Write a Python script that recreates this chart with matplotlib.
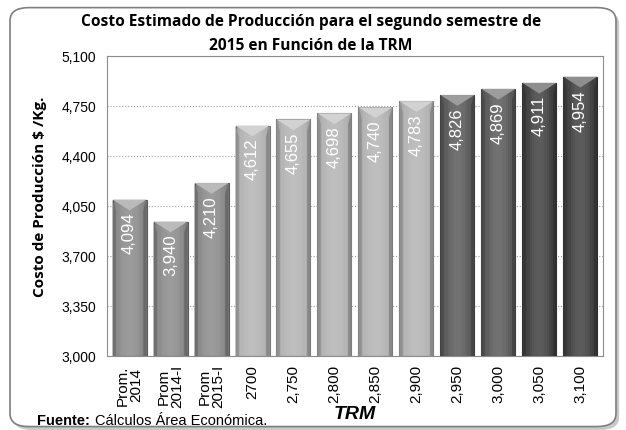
import matplotlib.pyplot as plt
from matplotlib.patches import FancyBboxPatch, Polygon
import numpy as np

categorias = ['Prom.\n2014', 'Prom\n2014-I', 'Prom\n2015-I', '2700', '2,750', '2,800',
              '2,850', '2,900', '2,950', '3,000', '3,050', '3,100']
costos = [4094, 3940, 4210, 4612, 4655, 4698, 4740, 4783, 4826, 4869, 4911, 4954]
colores = ['#8c8c8c'] * 3 + ['#b4b4b4'] * 5 + ['#5c5c5c'] * 2 + ['#434343'] * 2

plt.rcParams['font.family'] = ['Liberation Sans', 'DejaVu Sans']

fig = plt.figure(figsize=(6.26, 4.31), dpi=100)

# marco redondeado
marco = FancyBboxPatch((0.016, 0.008), 0.968, 0.972, boxstyle='round,pad=0,rounding_size=0.03',
                       transform=fig.transFigure, facecolor='white', edgecolor='#7f7f7f',
                       linewidth=1.2, zorder=-5)
sombra = FancyBboxPatch((0.021, 0.0), 0.968, 0.972, boxstyle='round,pad=0,rounding_size=0.03',
                        transform=fig.transFigure, facecolor='#c8c8c8', edgecolor='none', zorder=-6)
fig.patches.extend([sombra, marco])

ax = fig.add_axes([0.171, 0.172, 0.792, 0.696])
x = np.arange(len(costos))
w = 0.83
ymin = 3000

def tono(c, f):
    c = np.array(plt.matplotlib.colors.to_rgb(c))
    if f > 0:
        return tuple(c + (1 - c) * f)
    return tuple(c * (1 + f))

for i, (v, c) in enumerate(zip(costos, colores)):
    # barra con degradado horizontal
    n = 14
    for k in range(n):
        t = (k + 0.5) / n
        f = 0.25 * np.sin(np.pi * t) - 0.12
        ax.bar(x[i] - w / 2 + k * w / n, v - ymin, width=w / n, bottom=ymin, align='edge',
               color=tono(c, f), linewidth=0, zorder=2)
    ax.bar(x[i], v - ymin, width=w, bottom=ymin, facecolor='none',
           edgecolor=tono(c, -0.35), linewidth=0.8, zorder=3)
    # bisel superior
    b = 75
    izq, der = x[i] - w / 2, x[i] + w / 2
    ax.add_patch(Polygon([(izq, v), (der, v), (x[i], v - b)], closed=True,
                         facecolor=tono(c, 0.4), edgecolor='none', zorder=3))
    ax.add_patch(Polygon([(izq, v), (izq + 0.08, v - b), (izq + 0.08, ymin), (izq, ymin)], closed=True,
                         facecolor=tono(c, -0.2), edgecolor='none', zorder=3))
    ax.add_patch(Polygon([(der, v), (der - 0.08, v - b), (der - 0.08, ymin), (der, ymin)], closed=True,
                         facecolor=tono(c, -0.25), edgecolor='none', zorder=3))
    ax.text(x[i], v - 85, f'{v:,}', rotation=90, ha='center', va='top', color='white',
            fontsize=12, zorder=4)

ax.set_xlim(-0.55, len(costos) - 0.45)
ax.set_ylim(3000, 5100)
ax.set_yticks(np.arange(3000, 5101, 350))
ax.set_yticklabels([f'{t:,}' for t in np.arange(3000, 5101, 350)], fontsize=10)
ax.set_xticks(x)
ax.set_xticklabels(categorias, rotation=90, fontsize=11, linespacing=0.9)
ax.tick_params(length=0, pad=8)
ax.tick_params(axis='x', pad=6)
ax.yaxis.grid(True, linestyle=':', color='#a0a0a0', linewidth=0.8)
ax.set_axisbelow(True)
for s in ax.spines.values():
    s.set_color('#8c8c8c')
    s.set_linewidth(0.8)

fig.text(0.497, 0.948, 'Costo Estimado de Producción para el segundo semestre de',
         ha='center', va='center', fontsize=11.2, fontweight='bold', family=['Open Sans', 'DejaVu Sans'])
fig.text(0.497, 0.893, '2015 en Función de la TRM',
         ha='center', va='center', fontsize=11.2, fontweight='bold', family=['Open Sans', 'DejaVu Sans'])
fig.text(0.064, 0.543, 'Costo de Producción $ /Kg.', rotation=90, ha='center', va='center',
         fontsize=11, fontweight='bold', family=['Open Sans', 'DejaVu Sans'])
ax.set_xlabel('TRM', fontsize=14, fontweight='bold', fontstyle='italic', labelpad=-2)
fig.text(0.059, 0.008, 'Fuente:', fontsize=10.5, fontweight='bold', ha='left', va='bottom')
fig.text(0.152, 0.008, 'Cálculos Área Económica.', fontsize=10.5, ha='left', va='bottom')

fig.savefig('out.png', dpi=100)
